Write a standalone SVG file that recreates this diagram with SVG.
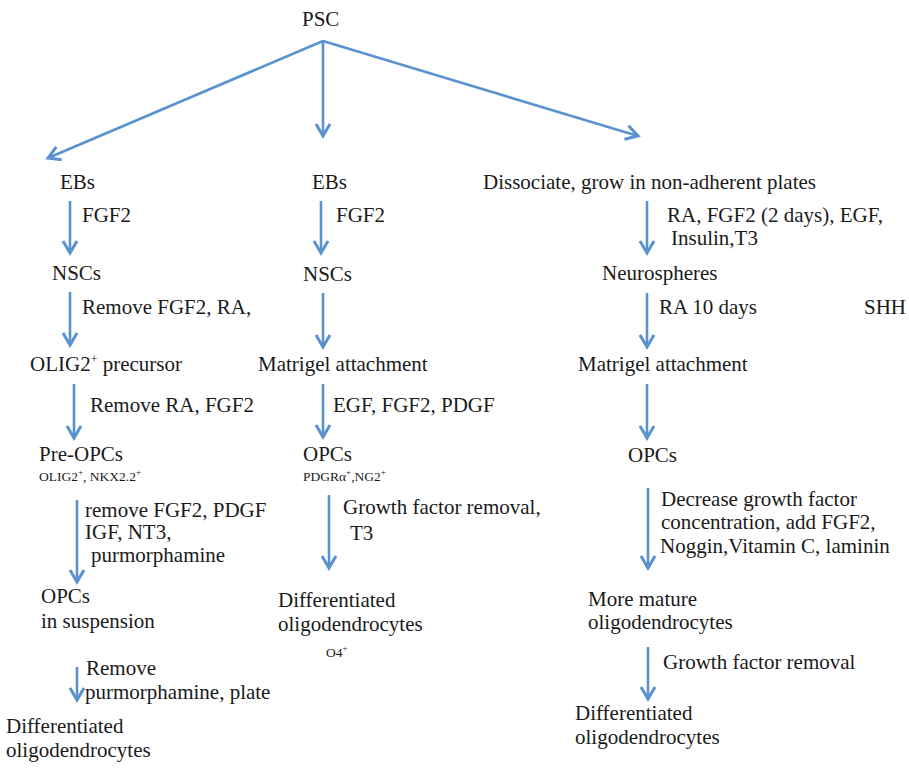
<svg xmlns="http://www.w3.org/2000/svg" width="909" height="769" viewBox="0 0 909 769">
<style>
text{font-family:"Liberation Serif","Times New Roman",serif;font-size:21px;fill:#1a1a1a}
.s{font-size:13.5px}
.sup{font-size:12px}
.ssup{font-size:9px}
.c line{stroke:#5a92d0;stroke-width:2.6;fill:none;marker-end:url(#ah)}
</style>
<defs>
<marker id="ah" markerUnits="userSpaceOnUse" markerWidth="20" markerHeight="20" viewBox="-14 -10 16 20" refX="0" refY="0" orient="auto">
<path d="M-12,-7 L0,0 L-12,7" fill="none" stroke="#5a92d0" stroke-width="3"/>
</marker>
</defs>
<rect width="909" height="769" fill="#ffffff"/>
<g id="connectors" class="c">
<line x1="323" y1="41" x2="48" y2="158"/>
<line x1="323" y1="41" x2="323" y2="136"/>
<line x1="323" y1="41" x2="638" y2="136"/>
<line x1="70" y1="201" x2="70" y2="253"/>
<line x1="70" y1="292" x2="70" y2="345"/>
<line x1="74" y1="384" x2="74" y2="438"/>
<line x1="77" y1="500" x2="77" y2="582"/>
<line x1="77" y1="667" x2="77" y2="700"/>
<line x1="321" y1="201" x2="321" y2="253"/>
<line x1="323" y1="293" x2="323" y2="347"/>
<line x1="323" y1="384" x2="323" y2="437"/>
<line x1="329" y1="495" x2="329" y2="568"/>
<line x1="647" y1="201" x2="647" y2="253"/>
<line x1="647" y1="293" x2="647" y2="347"/>
<line x1="647" y1="384" x2="647" y2="438"/>
<line x1="648" y1="488" x2="648" y2="568"/>
<line x1="648" y1="647" x2="648" y2="699"/>
</g>
<g id="psc"><text x="302" y="26">PSC</text></g>
<g id="col1">
<g id="ebs1"><text x="60" y="189">EBs</text></g>
<g id="l-fgf2-1"><text x="82" y="222">FGF2</text></g>
<g id="nscs1"><text x="52" y="280">NSCs</text></g>
<g id="l-remove1"><text x="82" y="314">Remove FGF2, RA,</text></g>
<g id="olig2"><text x="30" y="371">OLIG2<tspan class="sup" dy="-8">+</tspan><tspan dy="8"> precursor</tspan></text></g>
<g id="l-remove2"><text x="90" y="412">Remove RA, FGF2</text></g>
<g id="preopcs"><text x="39" y="461">Pre-OPCs</text><text class="s" x="39" y="481">OLIG2<tspan class="ssup" dy="-6">+</tspan><tspan dy="6">, NKX2.2</tspan><tspan class="ssup" dy="-6">+</tspan></text></g>
<g id="l-remove3"><text x="85" y="517">remove FGF2, PDGF</text><text x="85" y="539">IGF, NT3,</text><text x="91" y="562">purmorphamine</text></g>
<g id="opcs1"><text x="41" y="603">OPCs</text><text x="41" y="628">in suspension</text></g>
<g id="l-remove4"><text x="86" y="675">Remove</text><text x="85" y="699">purmorphamine, plate</text></g>
<g id="diff1"><text x="6" y="733">Differentiated</text><text x="6" y="757">oligodendrocytes</text></g>
</g>
<g id="col2">
<g id="ebs2"><text x="312" y="189">EBs</text></g>
<g id="l-fgf2-2"><text x="336" y="222">FGF2</text></g>
<g id="nscs2"><text x="303" y="281">NSCs</text></g>
<g id="matrigel2"><text x="258" y="371">Matrigel attachment</text></g>
<g id="l-egf"><text x="333" y="412">EGF, FGF2, PDGF</text></g>
<g id="opcs2"><text x="303" y="461">OPCs</text><text class="s" x="303" y="481">PDGRα<tspan class="ssup" dy="-6">+</tspan><tspan dy="6">,NG2</tspan><tspan class="ssup" dy="-6">+</tspan></text></g>
<g id="l-growth2"><text x="343" y="514">Growth factor removal,</text><text x="350" y="540">T3</text></g>
<g id="diff2"><text x="278" y="607">Differentiated</text><text x="278" y="631">oligodendrocytes</text><text class="s" x="326" y="657">O4<tspan class="ssup" dy="-6">+</tspan></text></g>
</g>
<g id="col3">
<g id="dissociate"><text x="483" y="189">Dissociate, grow in non-adherent plates</text></g>
<g id="l-ra"><text x="667" y="222">RA, FGF2 (2 days), EGF,</text><text x="671" y="245">Insulin,T3</text></g>
<g id="neurospheres"><text x="602" y="280">Neurospheres</text></g>
<g id="l-ra10"><text x="659" y="314">RA 10 days</text></g>
<g id="shh"><text x="864" y="314">SHH</text></g>
<g id="matrigel3"><text x="578" y="371">Matrigel attachment</text></g>
<g id="opcs3"><text x="628" y="462">OPCs</text></g>
<g id="l-decrease"><text x="661" y="506">Decrease growth factor</text><text x="661" y="529">concentration, add FGF2,</text><text x="660" y="553">Noggin,Vitamin C, laminin</text></g>
<g id="mature"><text x="588" y="606">More mature</text><text x="588" y="629">oligodendrocytes</text></g>
<g id="l-growth3"><text x="663" y="669">Growth factor removal</text></g>
<g id="diff3"><text x="575" y="720">Differentiated</text><text x="575" y="744">oligodendrocytes</text></g>
</g>
</svg>
